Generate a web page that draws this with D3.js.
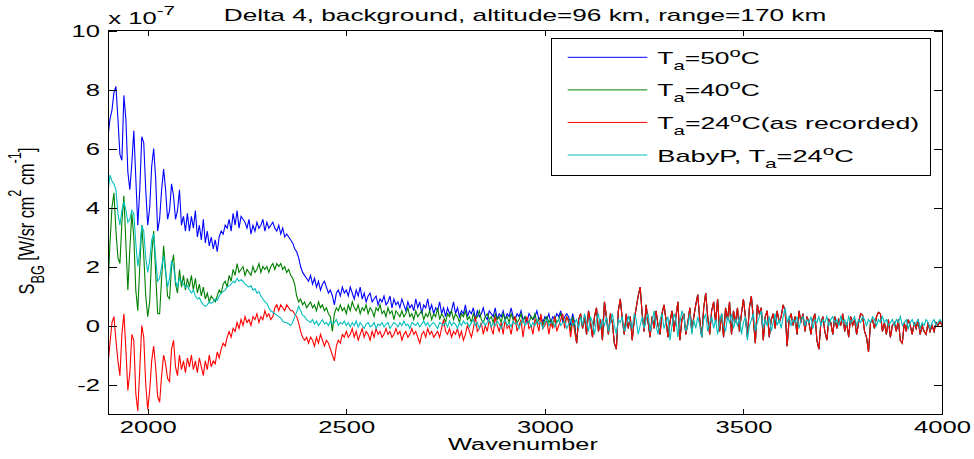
<!DOCTYPE html>
<html>
<head>
<meta charset="utf-8">
<script src="https://cdn.jsdelivr.net/npm/d3@7"></script>
<style>
body { margin: 0; background: #fff; }
text { font-family: "Liberation Sans", Arial, sans-serif; fill: #000; }
</style>
</head>
<body>
<svg id="chart" width="974" height="459"></svg>
<script>
// wavenumber grid: every 5 cm-1, values in units of 1e-7
var waveStart = 1900, waveStep = 5, tailStart = 3080

var blueT50 = [
  6.4, 7.0, 7.3, 7.9, 8.1, 7.0, 5.8, 5.6, 7.8, 7.0,
  5.2, 4.6, 5.5, 6.6, 5.0, 3.4, 4.6, 6.4, 6.2, 4.6,
  3.4, 4.0, 5.4, 6.0, 5.0, 3.2, 3.6, 4.6, 5.3, 4.6,
  3.6, 3.9, 4.8, 4.4, 3.6, 3.9, 4.6, 3.4, 3.7, 3.2,
  3.8, 3.2, 3.7, 3.3, 3.9, 3.0, 3.4, 2.9, 3.6, 2.8,
  3.2, 2.7, 3.0, 2.6, 2.9, 2.5, 3.0, 3.2, 3.1, 3.4,
  3.3, 3.6, 3.2, 3.8, 3.4, 3.9, 3.3, 3.7, 3.6, 3.5,
  3.3, 3.6, 3.1, 3.4, 3.2, 3.5, 3.3, 3.4, 3.6, 3.2,
  3.5, 3.3, 3.4, 3.5, 3.3, 3.2, 3.4, 3.1, 3.3, 3.0,
  3.1, 3.0, 2.9, 2.8, 2.6, 2.5, 2.3, 2.0, 1.8, 1.7,
  1.6, 1.5, 1.7, 1.4, 1.6, 1.3, 1.5, 1.2, 1.4, 1.5,
  1.3, 1.1, 1.2, 1.0, 0.7, 1.1, 1.2, 1.0, 1.3, 1.1,
  1.2, 1.0, 1.3, 1.1, 0.9, 1.2, 1.0, 1.3, 0.9, 1.1,
  0.8, 1.0, 1.1, 0.8, 0.9, 1.0, 0.7, 0.9, 0.8, 1.0,
  0.7, 0.8, 1.0, 0.6, 0.9, 0.7, 0.8, 0.6, 0.9, 0.7,
  0.5, 0.8, 0.6, 0.7, 0.5, 0.9, 0.6, 0.8, 0.4, 0.7,
  0.6, 0.9, 0.5, 0.7, 0.4, 0.6, 0.5, 0.8, 0.4, 0.6,
  0.3, 0.6, 0.4, 0.5, 0.8, 0.4, 0.6, 0.3, 0.5, 0.4,
  0.7, 0.3, 0.5, 0.4, 0.6, 0.2, 0.5, 0.3, 0.4, 0.6,
  0.3, 0.2, 0.5, 0.4, 0.3, 0.6, 0.2, 0.4, 0.3, 0.5,
  0.2, 0.4, 0.3, 0.6, 0.3, 0.2, 0.4, 0.3, 0.5, 0.2,
  0.3, 0.1, 0.4, 0.3, 0.2, 0.3, 0.5, 0.2, 0.3, 0.1,
  0.3, 0.2, 0.4, 0.1, 0.3, 0.2, 0.4, 0.3, 0.5, 0.1,
  0.3, 0.4, 0.3, 0.0, 0.4, 0.1
]

var greenT40 = [
  1.3, 2.8, 4.0, 4.5, 3.2, 2.3, 2.1, 3.5, 4.4, 2.8,
  1.2, 2.6, 3.8, 3.0, 1.2, 0.5, 2.0, 3.4, 2.4, 1.0,
  0.3, 0.8, 2.4, 3.2, 1.8, 0.4, 0.4, 1.6, 2.7, 1.9,
  1.0, 0.9, 2.0, 2.4, 1.4, 1.1, 1.9, 1.3, 1.7, 1.2,
  1.6, 1.3, 1.7, 1.2, 1.6, 1.1, 1.4, 1.0, 1.3, 0.9,
  1.1, 0.8, 1.0, 0.9, 0.8, 1.0, 1.2, 1.1, 1.4, 1.5,
  1.3, 1.7, 1.5, 1.9, 1.7, 2.1, 1.8, 1.9, 2.0, 1.7,
  1.9, 1.8, 1.7, 2.0, 1.8, 1.9, 2.1, 1.8, 2.0, 1.9,
  2.0, 1.8, 2.0, 2.1, 1.9, 2.1, 2.0, 2.1, 1.9, 2.0,
  1.8, 1.9, 1.7, 1.6, 1.4, 1.0, 0.8, 0.9, 0.7, 0.8,
  0.6, 0.7, 0.8, 0.6, 0.7, 0.5, 0.8, 0.6, 0.7, 0.5,
  0.6, 0.4, 0.3, -0.2, 0.4, 0.6, 0.5, 0.7, 0.5, 0.6,
  0.4, 0.7, 0.5, 0.8, 0.6, 0.5, 0.7, 0.4, 0.6, 0.5,
  0.7, 0.4, 0.6, 0.5, 0.3, 0.6, 0.5, 0.7, 0.4, 0.5,
  0.3, 0.6, 0.4, 0.5, 0.2, 0.5, 0.4, 0.3, 0.5, 0.3,
  0.4, 0.6, 0.3, 0.4, 0.2, 0.5, 0.3, 0.4, 0.5, 0.2,
  0.4, 0.3, 0.5, 0.2, 0.4, 0.3, 0.6, 0.2, 0.4, 0.3,
  0.1, 0.4, 0.3, 0.5, 0.2, 0.4, 0.3, 0.1, 0.4, 0.3,
  0.5, 0.2, 0.3, 0.1, 0.4, 0.2, 0.3, 0.5, 0.2, 0.1,
  0.3, 0.4, 0.2, 0.3, 0.1, 0.4, 0.2, 0.3, 0.1, 0.4,
  0.2, 0.3, 0.1, 0.4, 0.2, 0.3, 0.1, 0.2, 0.4, 0.1,
  0.3, 0.2, 0.1, 0.3, 0.2, 0.4, 0.1, 0.2, 0.3, 0.0,
  0.2, 0.3, 0.1, 0.2, 0.0, 0.3, 0.1, 0.2, 0.4, 0.2,
  0.1, 0.3, 0.2, -0.2, 0.3, 0.0
]

var redT24 = [
  -1.3, -0.6, 0.1, 0.3, -0.5, -1.2, -1.7, -0.3, 0.4, -0.8,
  -2.2, -1.6, -0.3, -0.5, -2.3, -2.9, -1.5, 0.0, -0.4, -2.0,
  -2.85, -2.2, -1.2, -0.7, -1.4, -2.4, -2.6, -1.7, -1.0, -1.3,
  -1.8, -1.9, -0.8, -0.5, -1.4, -1.7, -1.0, -1.5, -1.2, -1.6,
  -1.1, -1.4, -1.0, -1.5, -1.2, -1.6, -1.1, -1.4, -1.7, -1.2,
  -1.5, -1.0, -1.4, -1.2, -1.3, -0.9, -1.1, -0.8, -0.6, -0.7,
  -0.4, -0.2, -0.4, -0.1, -0.2, 0.1, -0.1, 0.2, 0.0, 0.3,
  0.1, 0.2, 0.0, 0.3, 0.2, 0.4, 0.1, 0.3, 0.2, 0.5,
  0.3, 0.4, 0.2, 0.3, 0.6, 0.7, 0.5, 0.7, 0.6, 0.5,
  0.7, 0.6, 0.5, 0.5, 0.4, 0.3, 0.1, -0.2, -0.4, -0.5,
  -0.4, -0.6, -0.4, -0.5, -0.7, -0.4, -0.6, -0.3, -0.5, -0.7,
  -0.5, -0.6, -0.8, -1.0, -1.2, -0.7, -0.5, -0.6, -0.3, -0.4,
  -0.2, -0.4, -0.3, -0.1, -0.4, -0.2, -0.5, -0.3, -0.1, -0.4,
  -0.2, -0.3, -0.5, -0.2, -0.4, -0.1, -0.3, -0.2, -0.4, -0.3,
  -0.1, -0.3, -0.2, -0.4, -0.3, -0.1, -0.3, -0.2, -0.5, -0.3,
  -0.2, -0.4, -0.3, -0.1, -0.3, -0.2, -0.4, -0.6, -0.3, -0.2,
  -0.4, -0.1, -0.3, -0.2, -0.4, -0.3, -0.2, -0.4, -0.1, 0.2,
  -0.2, -0.3, -0.1, -0.4, -0.2, -0.3, -0.1, -0.4, -0.2, -0.5,
  -0.3, 0.0, -0.2, -0.4, -0.1, 0.3, -0.2, -0.1, 0.1, -0.3,
  0.0, -0.2, 0.2, -0.1, -0.3, 0.3, 0.0, -0.2, 0.1, -0.3,
  0.2, -0.1, 0.0, -0.3, 0.1, 0.3, -0.2, 0.0, 0.2, -0.4,
  0.1, 0.3, -0.1, 0.0, -0.3, 0.2, 0.1, -0.2, 0.4, -0.1,
  0.0, 0.2, -0.3, 0.1, -0.1, 0.3, -0.2, 0.0, 0.2, 0.4,
  -0.1, 0.3, 0.1, -0.4, 0.2, -0.2
]

// above 3080 the three Ta curves lie on top of each other
var sharedTail = [
  -0.6, 0.2, 0.4, -0.1, 0.3, -0.3, 0.5, 0.1, -0.4, 0.3,
  0.6, -0.2, 0.2, -0.5, 0.8, 0.3, -0.3, 0.4, 0.1, -0.6,
  -0.8, 0.5, 0.9, 0.2, -0.3, 0.4, -0.1, 0.3, -0.5, 0.2,
  0.6, 1.0, 1.3, 0.4, -0.2, 0.7, 0.1, -0.4, 0.3, -0.1,
  0.5, 0.0, -0.3, 0.4, 0.7, 0.2, -0.4, 0.1, 0.5, -0.2,
  0.3, 0.8, -0.5, 0.2, 0.4, -0.3, 0.1, 0.6, -0.2, 0.3,
  0.7, 1.05, 0.2, -0.4, 0.6, 1.1, 0.3, -0.3, 0.5, 0.8,
  0.1, 0.9, -0.2, 0.4, -0.4, 0.6, 0.2, 0.8, -0.3, 0.5,
  0.1, 0.6, -0.2, 0.4, 0.9, 0.3, -0.4, 0.6, 1.0, 0.2,
  -0.6, 0.7, 0.4, 0.6, -0.5, 0.3, 0.5, -0.4, 0.2, 0.4,
  -0.1, 0.5, 0.1, 0.3, 0.7, 0.5, -0.7, 0.2, 0.4, 0.0,
  0.3, -0.3, 0.5, 0.1, 0.4, -0.2, 0.3, 0.1, -0.3, 0.2,
  0.4, -0.5, -0.8, 0.1, 0.3, -0.2, -0.5, 0.2, 0.1, -0.3,
  0.3, -0.1, 0.2, 0.0, 0.4, -0.2, 0.1, -0.4, 0.3, 0.0,
  0.2, -0.3, 0.1, 0.4, 0.35, -0.2, -0.4, -0.9, 0.1, 0.2,
  -0.1, 0.3, 0.45, 0.4, -0.2, 0.1, -0.3, 0.2, -0.4, 0.0,
  0.1, -0.2, 0.2, -0.5, -0.6, 0.1, -0.2, 0.2, 0.0, -0.3,
  0.1, -0.1, 0.2, -0.3, 0.0, -0.2, -0.3, 0.1, -0.2, 0.0,
  -0.2, 0.1, 0.0, 0.15, 0.0
]

var cyanBabyP = [
  4.5, 5.1, 4.9, 4.8, 4.6, 3.8, 3.4, 3.9, 4.2, 3.9,
  3.5, 3.6, 3.9, 3.8, 2.8, 2.0, 2.5, 3.4, 3.2, 2.3,
  1.8, 2.2, 2.9, 3.1, 2.3, 1.5, 1.6, 2.0, 2.35, 1.8,
  1.3, 1.6, 2.2, 2.0, 1.5, 1.3, 1.6, 1.5, 1.4, 1.3,
  1.35, 1.2, 1.1, 1.2, 1.0, 0.9, 0.95, 0.8, 0.7, 0.65,
  0.7, 0.8, 0.75, 0.8, 0.9, 0.85, 1.0, 1.1, 1.15, 1.2,
  1.3, 1.35, 1.4, 1.5, 1.45, 1.6, 1.5, 1.55, 1.5, 1.4,
  1.35, 1.3, 1.35, 1.2, 1.25, 1.1, 1.15, 1.0, 0.9, 0.8,
  0.75, 0.6, 0.5, 0.45, 0.4, 0.35, 0.3, 0.25, 0.15, 0.1,
  0.1, 0.05, 0.0, 0.1, 0.3, 0.45, 0.65, 0.5, 0.35, 0.3,
  0.2, 0.15, 0.1, 0.2, 0.05, 0.15, 0.0, 0.1, 0.2, 0.05,
  0.1, 0.0, 0.15, 0.05, 0.1, 0.2, 0.0, 0.1, 0.05, 0.15,
  0.0, 0.1, -0.05, 0.1, 0.0, 0.15, -0.05, 0.1, 0.0, -0.1,
  0.05, 0.1, -0.05, 0.0, 0.1, -0.1, 0.05, 0.0, 0.1, -0.05,
  0.05, 0.1, -0.1, 0.0, 0.1, 0.05, -0.05, 0.1, 0.0, 0.15,
  0.0, 0.05, -0.1, 0.1, 0.05, 0.0, 0.1, -0.05, 0.05, 0.15,
  0.0, 0.1, -0.05, 0.05, 0.1, 0.0, -0.1, 0.1, 0.05, 0.0,
  0.1, -0.05, 0.15, 0.0, 0.1, 0.05, -0.1, 0.1, 0.0, 0.15,
  0.05, 0.1, -0.05, 0.1, 0.2, 0.0, 0.1, -0.1, 0.05, 0.15,
  0.0, 0.1, 0.2, -0.05, 0.1, 0.0, 0.15, 0.05, -0.1, 0.1,
  0.2, 0.0, 0.1, -0.05, 0.15, 0.05, 0.1, -0.1, 0.1, 0.2,
  0.0, 0.1, 0.15, -0.05, 0.1, 0.0, 0.2, 0.05, 0.1, -0.1,
  0.1, 0.2, 0.0, 0.1, 0.15, -0.05, 0.1, 0.2, 0.0, 0.1,
  0.15, -0.1, 0.05, 0.2, 0.0, 0.1
]

var cyanTail = [
  0.2, -0.1, 0.3, 0.0, 0.4, 0.1, -0.2, 0.3, 0.1, -0.3,
  0.2, 0.4, -0.1, 0.2, 0.0, 0.3, -0.2, 0.1, 0.4, 0.0,
  -0.3, 0.2, 0.1, 0.3, -0.2, 0.0, 0.3, 0.1, -0.1, 0.4,
  0.2, -0.3, 0.0, 0.3, -0.1, 0.2, 0.4, -0.2, 0.1, 0.5,
  0.0, -0.3, 0.2, 0.4, -0.1, 0.1, 0.3, -0.5, 0.0, 0.4,
  0.2, -0.4, 0.1, 0.5, 0.3, -0.2, 0.0, 0.4, -0.3, 0.2,
  -0.1, 0.3, 0.0, -0.4, 0.2, 0.4, -0.2, 0.1, 0.3, -0.1,
  0.2, -0.3, 0.1, 0.4, 0.0, -0.2, 0.3, 0.1, 0.4, -0.1,
  0.2, 0.0, 0.3, -0.3, 0.1, 0.3, -0.5, 0.0, 0.2, 0.4,
  -0.2, 0.1, 0.3, 0.5, -0.1, 0.2, 0.0, 0.3, -0.2, 0.1,
  0.4, 0.0, 0.2, -0.1, 0.3, 0.6, 0.1, 0.3, 0.0, 0.2,
  0.1, 0.3, -0.1, 0.2, 0.3, 0.0, 0.2, 0.1, 0.3, -0.1,
  0.2, 0.1, 0.3, 0.0, 0.2, 0.1, 0.3, 0.0, 0.2, 0.3,
  0.1, 0.2, 0.0, 0.3, 0.1, 0.2, 0.0, 0.3, 0.1, 0.2,
  0.3, 0.0, 0.2, 0.1, 0.3, 0.2, 0.0, 0.2, 0.1, 0.3,
  0.2, 0.0, 0.2, 0.1, 0.3, 0.1, 0.2, 0.0, 0.1, 0.2,
  0.0, 0.2, 0.1, 0.3, 0.0, 0.1, 0.2, -0.1, 0.1, 0.2,
  0.0, 0.1, 0.2, -0.1, 0.1, 0.0, 0.2, 0.1, -0.1, 0.1,
  0.2, 0.0, 0.1, 0.2, 0.1
]

var xTicks = [2000, 2500, 3000, 3500, 4000]
var yTicks = [-2, 0, 2, 4, 6, 8, 10]

var titleText = 'Delta 4, background, altitude=96 km, range=170 km'
var xLabelText = 'Wavenumber'

// legend labels, split into [text, 'n'|'sub'|'sup'] parts
var legendLabels = [
  [['T', 'n'], ['a', 'sub'], ['=50', 'n'], ['o', 'sup'], ['C', 'n']],
  [['T', 'n'], ['a', 'sub'], ['=40', 'n'], ['o', 'sup'], ['C', 'n']],
  [['T', 'n'], ['a', 'sub'], ['=24', 'n'], ['o', 'sup'], ['C(as recorded)', 'n']],
  [['BabyP, T', 'n'], ['a', 'sub'], ['=24', 'n'], ['o', 'sup'], ['C', 'n']]
]
var legendColors = ['#0000ff', '#008000', '#ff0000', '#00bfbf']

var SX = 1.6   // the figure is stretched sideways, so is its text

var svg = d3.select('#chart')

var x = d3.scaleLinear().domain([1900, 4000]).range([108, 942])
var y = d3.scaleLinear().domain([-3, 10]).range([414, 30.5])

function pts(vals, start) {
  return vals.map(function(v, i) { return {w: start + i * waveStep, v: v} })
}

var series = [
  pts(blueT50, waveStart).concat(pts(sharedTail, tailStart)),
  pts(greenT40, waveStart).concat(pts(sharedTail, tailStart)),
  pts(redT24, waveStart).concat(pts(sharedTail, tailStart)),
  pts(cyanBabyP, waveStart).concat(pts(cyanTail, tailStart))
]

svg.append('clipPath').attr('id', 'plotclip')
  .append('rect')
  .attr('x', x.range()[0]).attr('y', y.range()[1])
  .attr('width', x.range()[1] - x.range()[0])
  .attr('height', y.range()[0] - y.range()[1])

var line = d3.line()
  .x(function(d) { return x(d.w) })
  .y(function(d) { return y(d.v) })

var lines = svg.append('g').attr('clip-path', 'url(#plotclip)')
series.forEach(function(s, i) {
  lines.append('path')
    .datum(s)
    .attr('fill', 'none')
    .attr('stroke', legendColors[i])
    .attr('stroke-width', 1.1)
    .attr('d', line)
})

// axes, ticks pointing inwards on all four sides
var fmt = function(d) { return String(d) }

var gx = svg.append('g')
  .attr('transform', 'translate(0,' + y.range()[0] + ')')
  .call(d3.axisBottom(x).tickValues(xTicks).tickSize(-5.5).tickPadding(8).tickFormat(fmt))
gx.selectAll('text').attr('transform', 'scale(' + SX + ',1)').style('font-size', '16px')

var gy = svg.append('g')
  .attr('transform', 'translate(' + x.range()[0] + ',0)')
  .call(d3.axisLeft(y).tickValues(yTicks).tickSize(-8.5).tickPadding(8).tickFormat(fmt))
gy.selectAll('text')
  .attr('x', -8 / SX)
  .attr('dy', '0.36em')
  .attr('transform', 'scale(' + SX + ',1)')
  .style('font-size', '16px')

svg.append('g')
  .attr('transform', 'translate(0,' + y.range()[1] + ')')
  .call(d3.axisTop(x).tickValues(xTicks).tickSize(-5.5).tickFormat(''))
svg.append('g')
  .attr('transform', 'translate(' + x.range()[1] + ',0)')
  .call(d3.axisRight(y).tickValues(yTicks).tickSize(-8.5).tickFormat(''))

svg.selectAll('.domain').remove()
svg.selectAll('.tick line').attr('stroke', '#000').attr('shape-rendering', 'crispEdges')

svg.append('rect')
  .attr('x', x.range()[0]).attr('y', y.range()[1])
  .attr('width', x.range()[1] - x.range()[0])
  .attr('height', y.range()[0] - y.range()[1])
  .attr('fill', 'none').attr('stroke', '#000').attr('stroke-width', 1)
  .attr('shape-rendering', 'crispEdges')

// stretch a text sideways so it covers a given width
function fitText(t, width) {
  var w = t.node().getBBox().width
  return width / w
}

// title
var tg = svg.append('g')
var tt = tg.append('text').attr('text-anchor', 'middle').style('font-size', '16px').text(titleText)
tg.attr('transform', 'translate(525,20.7) scale(' + fitText(tt, 603) + ',1)')

// x label
var xg = svg.append('g')
var xt = xg.append('text').attr('text-anchor', 'middle').style('font-size', '16px').text(xLabelText)
xg.attr('transform', 'translate(523,449.5) scale(' + fitText(xt, 151) + ',1)')

// exponent
var eg = svg.append('g').attr('transform', 'translate(108.3,24) scale(' + SX + ',1)')
var et = eg.append('text').style('font-size', '16px')
et.append('tspan').text('x 10')
et.append('tspan').attr('dy', -9).style('font-size', '13px').text('-7')

// y label, rotated
var yl = svg.append('g')
var ylt = yl.append('text').attr('text-anchor', 'middle').style('font-size', '14px')
ylt.append('tspan').text('S')
ylt.append('tspan').attr('dy', 6).style('font-size', '11px').text('BG')
ylt.append('tspan').attr('dy', -6).text(' [W/sr cm')
ylt.append('tspan').attr('dy', -8).style('font-size', '11px').text('2')
ylt.append('tspan').attr('dy', 8).text(' cm')
ylt.append('tspan').attr('dy', -8).style('font-size', '11px').text('-1')
ylt.append('tspan').attr('dy', 8).text(']')
var ylLen = 147 / ylt.node().getBBox().width
yl.attr('transform', 'translate(34,221) rotate(-90) scale(' + ylLen + ',1.6)')

// legend
var legend = svg.append('g')
legend.append('rect')
  .attr('x', 551.7).attr('y', 38.3).attr('width', 379).attr('height', 136.7)
  .attr('fill', '#fff').attr('stroke', '#000').attr('stroke-width', 1)
  .attr('shape-rendering', 'crispEdges')

var rowY = d3.scalePoint().domain(d3.range(legendLabels.length)).range([57.3, 155])
var rowWidths = [102.7, 102.7, 262, 196.7]

legendLabels.forEach(function(parts, i) {
  legend.append('line')
    .attr('x1', 567.7).attr('x2', 647.3)
    .attr('y1', rowY(i)).attr('y2', rowY(i))
    .attr('stroke', legendColors[i]).attr('stroke-width', 1)
  var g = legend.append('g')
  var t = g.append('text').style('font-size', '17px')
  var shift = 0
  parts.forEach(function(p) {
    var ts = t.append('tspan').text(p[0])
    var target = p[1] === 'sub' ? 6 : (p[1] === 'sup' ? -7 : 0)
    ts.attr('dy', target - shift)
    shift = target
    if (p[1] !== 'n') ts.style('font-size', '13px')
  })
  g.attr('transform', 'translate(657.3,' + (rowY(i) + 6.5) + ') scale(' + fitText(t, rowWidths[i]) + ',1)')
})
</script>
</body>
</html>
